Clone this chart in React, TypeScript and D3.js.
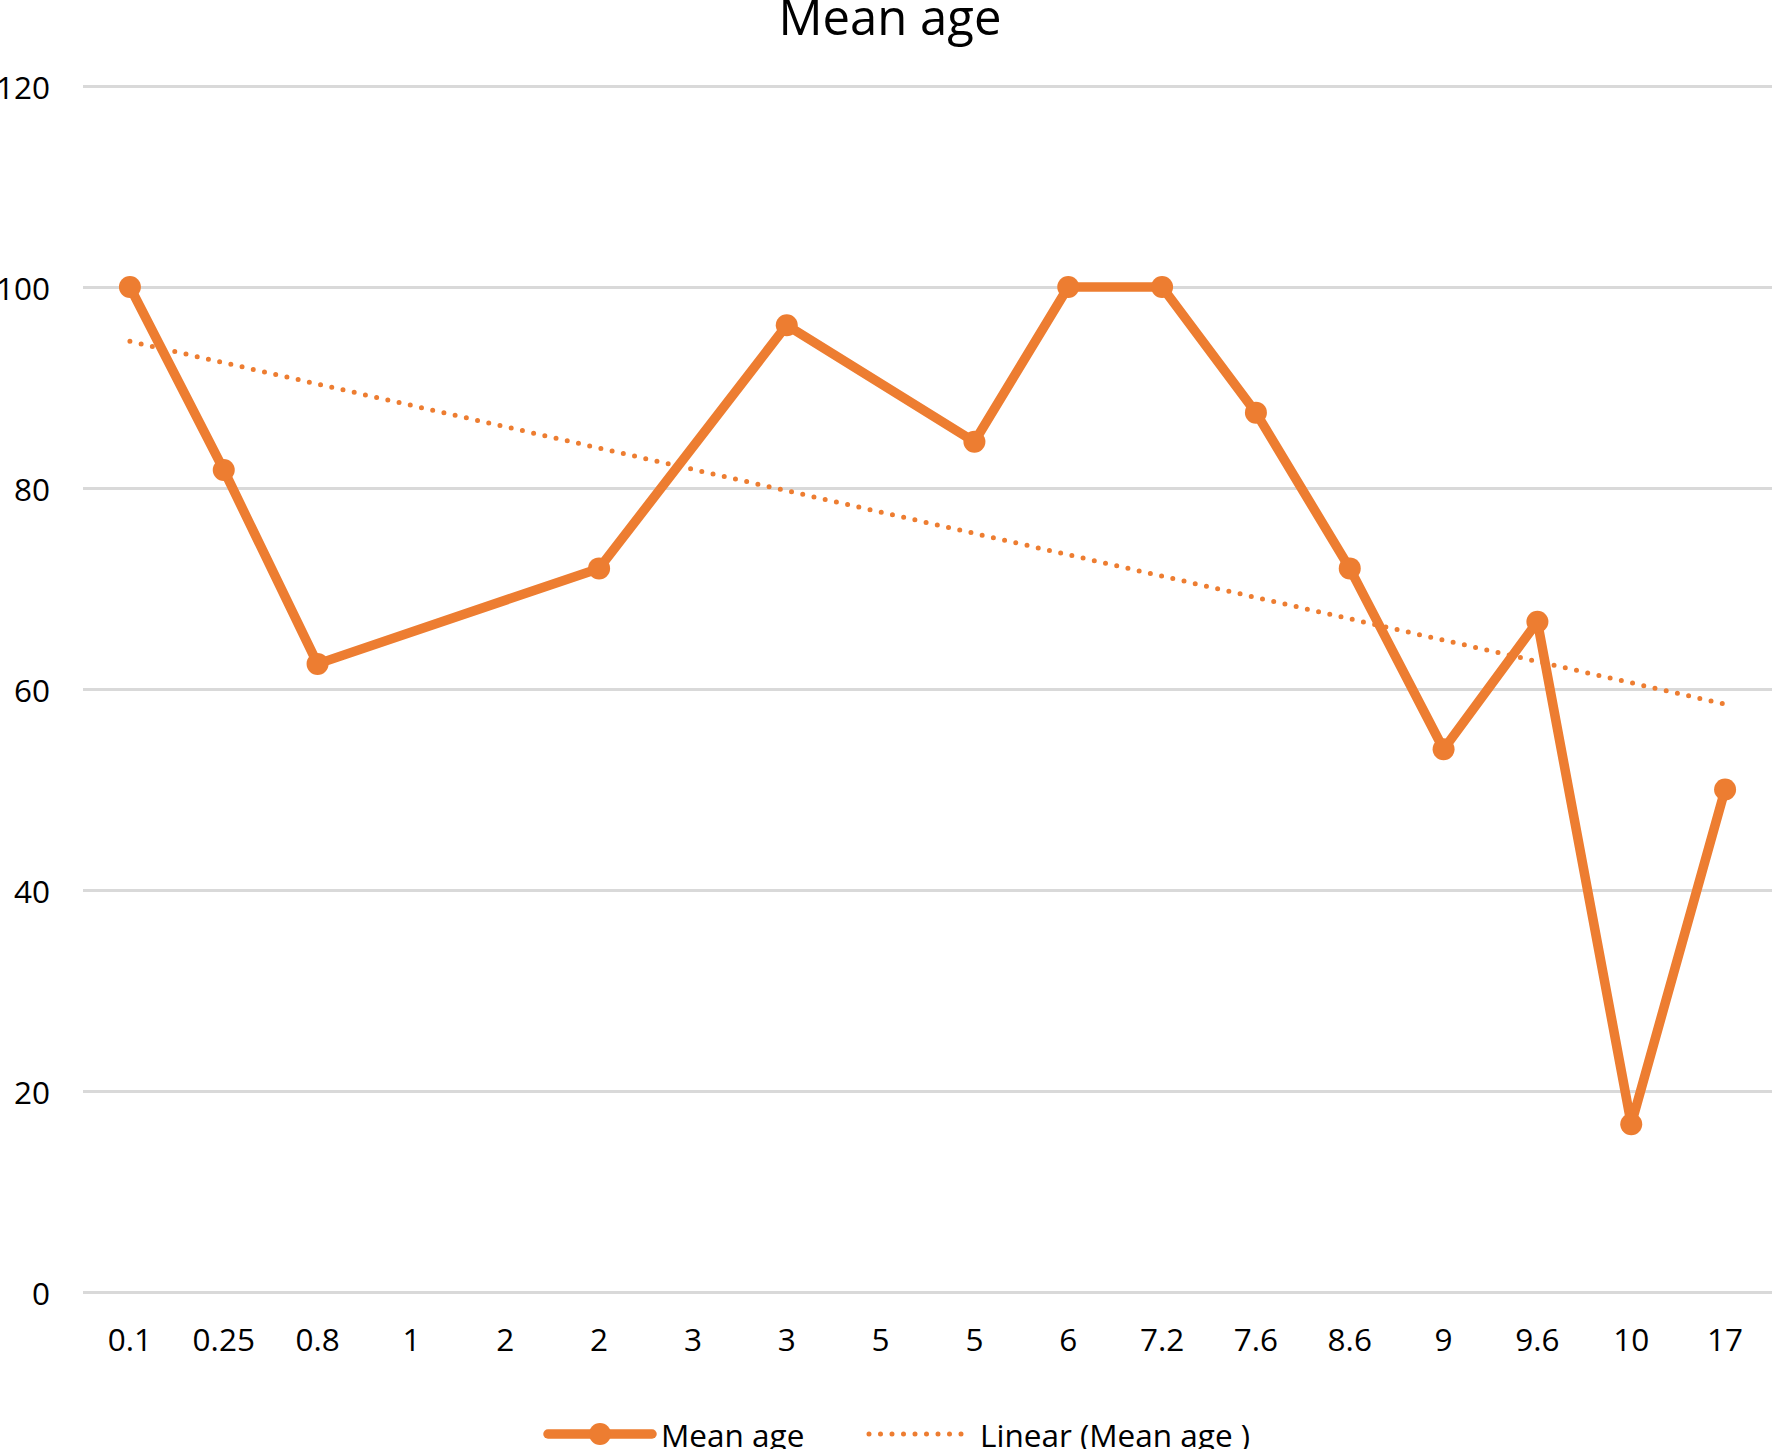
import React, { useEffect, useRef } from 'react';
import * as d3 from 'd3';

// x categories as printed on the axis (duplicates are separate points)
const categories = ['0.1', '0.25', '0.8', '1', '2', '2', '3', '3', '5', '5', '6', '7.2', '7.6', '8.6', '9', '9.6', '10', '17'];
// null = no value for that category, the line just skips over it
const meanAge: (number | null)[] = [100, 81.8, 62.5, null, null, 72, null, 96.2, null, 84.6, 100, 100, 87.5, 72, 54, 66.7, 16.7, 50];
const yTicks = [0, 20, 40, 60, 80, 100, 120];

const title = 'Mean age';
const seriesName = 'Mean age';
const trendName = 'Linear (Mean age )';

const ORANGE = '#ED7D31';
const GRID = '#D9D9D9';
const FONT = '"Open Sans", sans-serif';
const LABEL_SIZE = 31.5;

const W = 1772;
const H = 1449;

const App = () => {
  const svgRef = useRef<SVGSVGElement>(null);

  const drawChart = () => {
    const margin = { top: 86, right: 0, bottom: 157, left: 83 };
    const width = W - margin.left - margin.right;
    const height = H - margin.top - margin.bottom;

    const svg = d3.select(svgRef.current);
    svg.selectAll('*').remove();

    const x = d3.scaleBand<number>().domain(d3.range(categories.length)).range([0, width]);
    const y = d3.scaleLinear().domain([0, 120]).range([height, 0]);
    const cx = (i: number) => (x(i) as number) + x.bandwidth() / 2;

    const g = svg.append('g').attr('transform', `translate(${margin.left},${margin.top})`);

    // gridlines + y labels
    const yAxis = g.append('g')
      .call(d3.axisLeft(y).tickValues(yTicks).tickSize(-width).tickPadding(33));
    yAxis.select('.domain').remove();
    yAxis.selectAll('line').attr('stroke', GRID).attr('stroke-width', 3);
    yAxis.selectAll('text')
      .attr('font-family', FONT)
      .attr('font-size', LABEL_SIZE)
      .attr('fill', '#000')
      .attr('dy', null)
      .attr('dominant-baseline', 'central');

    // x labels
    const xAxis = g.append('g')
      .attr('transform', `translate(0,${height})`)
      .call(d3.axisBottom(x).tickSize(0).tickFormat((i) => categories[i as number]));
    xAxis.select('.domain').remove();
    xAxis.selectAll('text')
      .attr('font-family', FONT)
      .attr('font-size', LABEL_SIZE)
      .attr('fill', '#000')
      .attr('y', 46)
      .attr('dy', null)
      .attr('dominant-baseline', 'central');

    const pts = meanAge
      .map((v, i) => ({ i, v }))
      .filter((d) => d.v !== null) as { i: number; v: number }[];

    // linear trendline (least squares on category index)
    const mx = d3.mean(pts, (d) => d.i) as number;
    const my = d3.mean(pts, (d) => d.v) as number;
    const sxy = d3.sum(pts, (d) => (d.i - mx) * (d.v - my));
    const sxx = d3.sum(pts, (d) => (d.i - mx) ** 2);
    const slope = sxy / sxx;
    const icpt = my - slope * mx;
    const trend = [pts[0].i, pts[pts.length - 1].i].map((i) => ({ i, v: icpt + slope * i }));

    const line = d3.line<{ i: number; v: number }>()
      .x((d) => cx(d.i))
      .y((d) => y(d.v));

    g.append('path')
      .datum(pts)
      .attr('d', line)
      .attr('fill', 'none')
      .attr('stroke', ORANGE)
      .attr('stroke-width', 9.5)
      .attr('stroke-linejoin', 'round');

    g.append('path')
      .datum(trend)
      .attr('d', line)
      .attr('fill', 'none')
      .attr('stroke', ORANGE)
      .attr('stroke-width', 5)
      .attr('stroke-linecap', 'round')
      .attr('stroke-dasharray', '0 11.5');

    g.selectAll('.marker')
      .data(pts)
      .enter()
      .append('circle')
      .attr('class', 'marker')
      .attr('cx', (d) => cx(d.i))
      .attr('cy', (d) => y(d.v))
      .attr('r', 11)
      .attr('fill', ORANGE);

    // title
    svg.append('text')
      .text(title)
      .attr('x', 890)
      .attr('y', 35)
      .attr('text-anchor', 'middle')
      .attr('font-family', FONT)
      .attr('font-size', 49)
      .attr('fill', '#000');

    // legend
    const ly = 1434;
    const legend = svg.append('g');
    legend.append('line')
      .attr('x1', 548).attr('x2', 652).attr('y1', ly).attr('y2', ly)
      .attr('stroke', ORANGE).attr('stroke-width', 9.5).attr('stroke-linecap', 'round');
    legend.append('circle').attr('cx', 600).attr('cy', ly).attr('r', 11).attr('fill', ORANGE);
    legend.append('text')
      .text(seriesName)
      .attr('x', 661).attr('y', ly)
      .attr('dominant-baseline', 'central')
      .attr('font-family', FONT).attr('font-size', LABEL_SIZE).attr('fill', '#000');
    legend.append('line')
      .attr('x1', 869).attr('x2', 966).attr('y1', ly).attr('y2', ly)
      .attr('stroke', ORANGE).attr('stroke-width', 5)
      .attr('stroke-linecap', 'round').attr('stroke-dasharray', '0 11.5');
    legend.append('text')
      .text(trendName)
      .attr('x', 980).attr('y', ly)
      .attr('dominant-baseline', 'central')
      .attr('font-family', FONT).attr('font-size', LABEL_SIZE).attr('fill', '#000');
  };

  useEffect(() => {
    document.body.style.margin = '0';
    drawChart();
  }, []);

  return (
    <div style={{ background: '#fff' }}>
      <svg ref={svgRef} width={W} height={H} style={{ display: 'block' }} />
    </div>
  );
};

export default App;
